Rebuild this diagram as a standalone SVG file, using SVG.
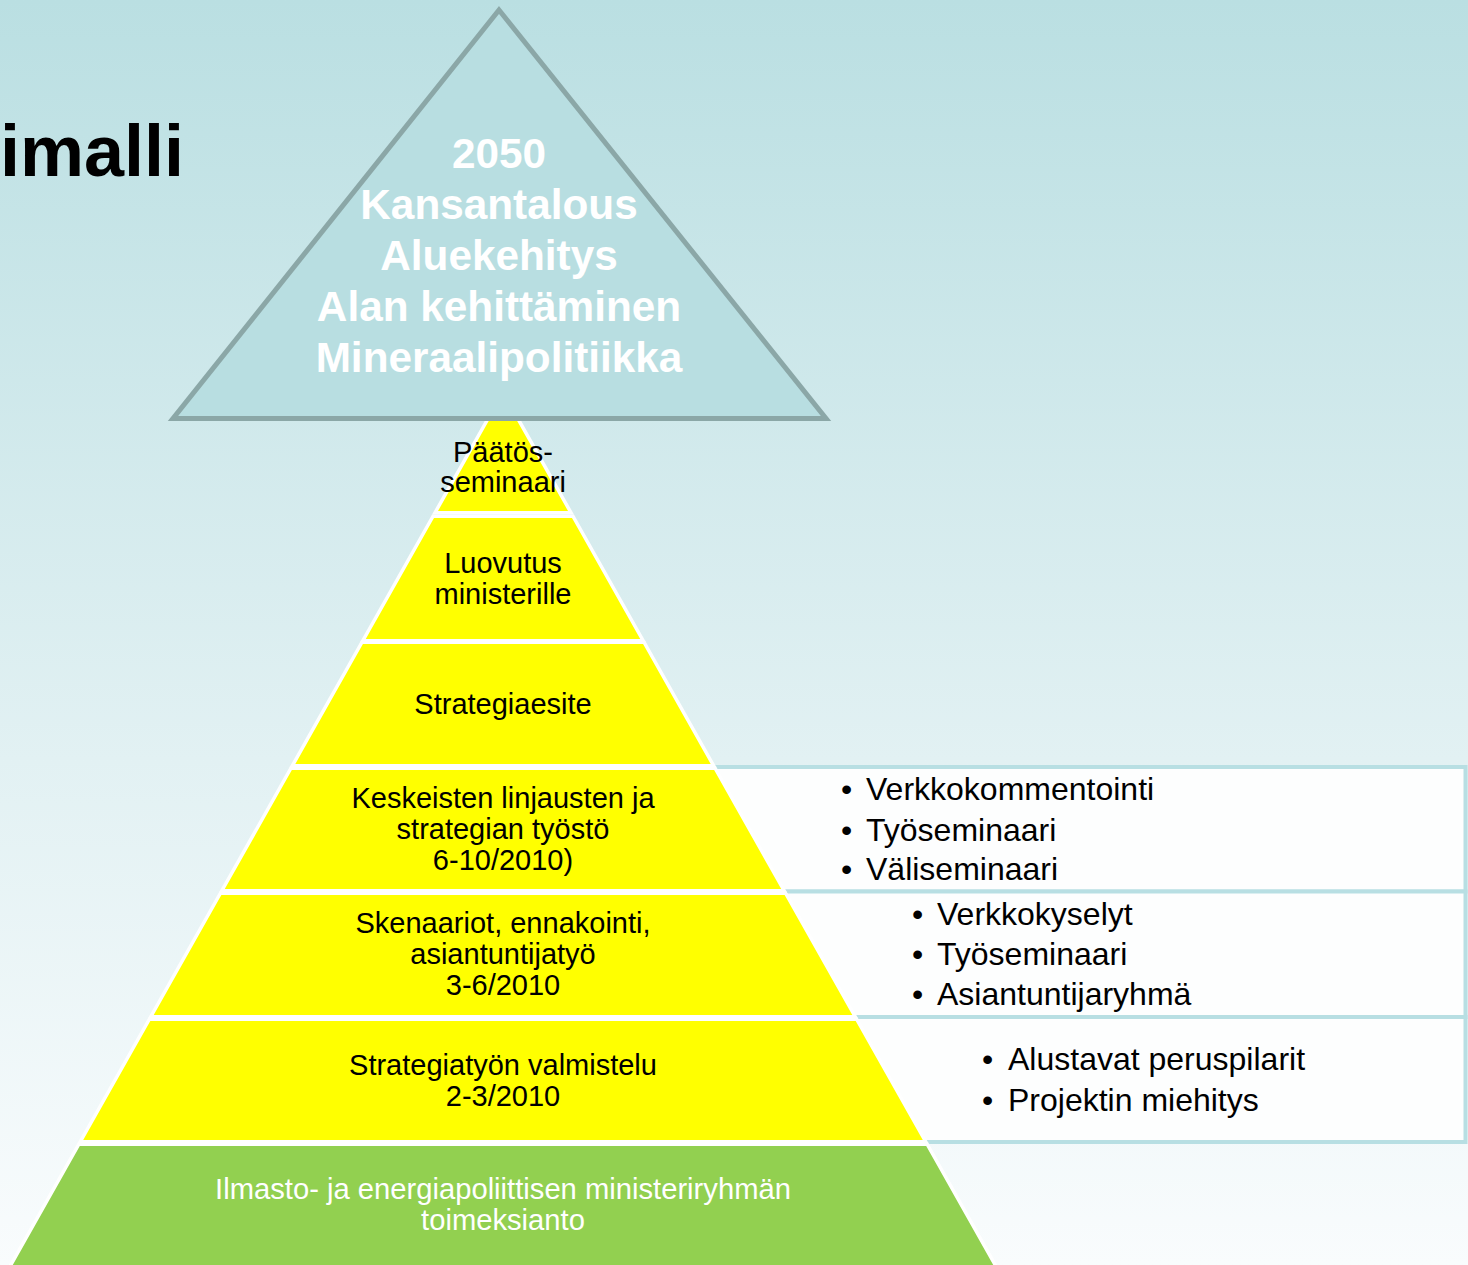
<svg xmlns="http://www.w3.org/2000/svg" width="1468" height="1265" viewBox="0 0 1468 1265">
<defs>
<linearGradient id="bg" x1="0" y1="0" x2="0" y2="1">
<stop offset="0" stop-color="#badfe2"/>
<stop offset="0.6" stop-color="#e2f1f3"/>
<stop offset="1" stop-color="#f9fcfd"/>
</linearGradient>
<style>
.lay{fill:#ffff00;stroke:#ffffff;stroke-width:3.5;stroke-linejoin:miter}
.grn{fill:#92d050;stroke:#ffffff;stroke-width:3.5}
.box{fill:#fdfefe;stroke:#b8dfe3;stroke-width:4}
.lt{font-family:"Liberation Sans",Arial,sans-serif;font-size:29px;fill:#000;text-anchor:middle}
.gt{font-family:"Liberation Sans",Arial,sans-serif;font-size:29.2px;fill:#fff;text-anchor:middle}
.bt{font-family:"Liberation Sans",Arial,sans-serif;font-size:32px;fill:#000}
.tt{font-family:"Liberation Sans",Arial,sans-serif;font-size:42.3px;font-weight:bold;fill:#fff;text-anchor:middle}
</style>
</defs>
<rect x="0" y="0" width="1468" height="1265" fill="url(#bg)"/>
<text x="0" y="176" font-family="'Liberation Sans',Arial,sans-serif" font-size="72" font-weight="bold" fill="#000">imalli</text>

<g id="boxes">
<rect class="box" x="600" y="767" width="865.5" height="124.5"/>
<rect class="box" x="600" y="891.5" width="865.5" height="125.5"/>
<rect class="box" x="600" y="1017" width="865.5" height="125"/>
</g>

<g id="layer-paatos">
<polygon class="lay" points="498.6,400 507.4,400 571,512.75 435,512.75"/>
</g>
<g id="layer-luovutus">
<polygon class="lay" points="433.05,516.25 572.95,516.25 643.17,640.75 362.83,640.75"/>
<text class="lt" x="503" y="573">Luovutus</text>
<text class="lt" x="503" y="604">ministerille</text>
</g>
<g id="layer-strategiaesite">
<polygon class="lay" points="361.99,642.25 644.01,642.25 713.67,765.75 292.33,765.75"/>
<text class="lt" x="503" y="714">Strategiaesite</text>
</g>
<g id="layer-keskeisten">
<polygon class="lay" points="290.92,768.25 715.08,768.25 784.17,890.75 221.83,890.75"/>
<text class="lt" x="503" y="808">Keskeisten linjausten ja</text>
<text class="lt" x="503" y="839">strategian työstö</text>
<text class="lt" x="503" y="870">6-10/2010)</text>
</g>
<g id="layer-skenaariot">
<polygon class="lay" points="220.42,893.25 785.58,893.25 855.23,1016.75 150.77,1016.75"/>
<text class="lt" x="503" y="933">Skenaariot, ennakointi,</text>
<text class="lt" x="503" y="964">asiantuntijatyö</text>
<text class="lt" x="503" y="995">3-6/2010</text>
</g>
<g id="layer-valmistelu">
<polygon class="lay" points="149.36,1019.25 856.64,1019.25 925.73,1141.75 80.27,1141.75"/>
<text class="lt" x="503" y="1075">Strategiatyön valmistelu</text>
<text class="lt" x="503" y="1106">2-3/2010</text>
</g>
<g id="layer-toimeksianto">
<polygon class="grn" points="78.86,1144.25 927.14,1144.25 996.94,1268 9.06,1268"/>
<text class="gt" x="503" y="1199">Ilmasto- ja energiapoliittisen ministeriryhmän</text>
<text class="gt" x="503" y="1230">toimeksianto</text>
</g>

<g id="vision-triangle">
<polygon points="499,10 826,418.5 173,418.5" fill="#b8dee1" stroke="#8ba7a7" stroke-width="5" stroke-linejoin="miter"/>
<text class="tt" x="499" y="168">2050</text>
<text class="tt" x="499" y="219">Kansantalous</text>
<text class="tt" x="499" y="270">Aluekehitys</text>
<text class="tt" x="499" y="321">Alan kehittäminen</text>
<text class="tt" x="499" y="372">Mineraalipolitiikka</text>
</g>
<g id="paatos-label">
<text class="lt" x="503" y="462">Päätös-</text>
<text class="lt" x="503" y="492">seminaari</text>
</g>

<g id="bullets-1">
<text class="bt" x="841" y="800">•</text><text class="bt" x="866" y="800">Verkkokommentointi</text>
<text class="bt" x="841" y="841">•</text><text class="bt" x="866" y="841">Työseminaari</text>
<text class="bt" x="841" y="880">•</text><text class="bt" x="866" y="880">Väliseminaari</text>
</g>
<g id="bullets-2">
<text class="bt" x="912" y="925">•</text><text class="bt" x="937" y="925">Verkkokyselyt</text>
<text class="bt" x="912" y="965">•</text><text class="bt" x="937" y="965">Työseminaari</text>
<text class="bt" x="912" y="1005">•</text><text class="bt" x="937" y="1005">Asiantuntijaryhmä</text>
</g>
<g id="bullets-3">
<text class="bt" x="982" y="1070">•</text><text class="bt" x="1008" y="1070">Alustavat peruspilarit</text>
<text class="bt" x="982" y="1111">•</text><text class="bt" x="1008" y="1111">Projektin miehitys</text>
</g>
<g id="connectors"></g>
</svg>
